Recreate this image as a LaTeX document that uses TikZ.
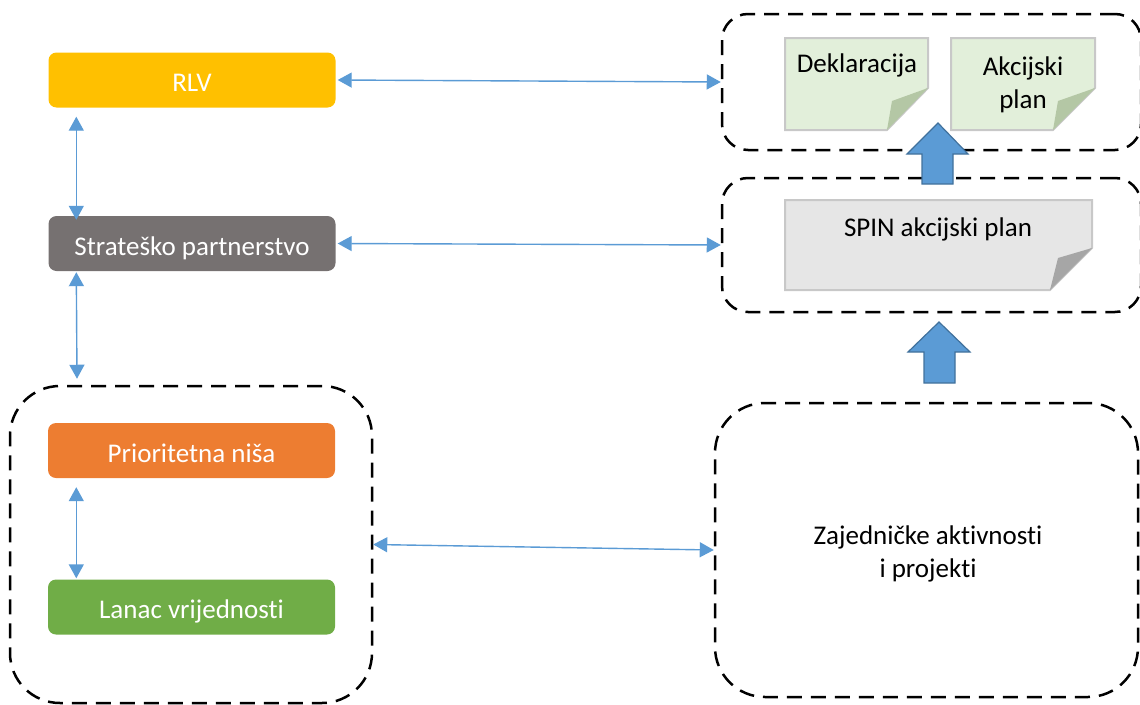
\documentclass[tikz,border=0pt]{standalone}
\usepackage{fontspec}
\setmainfont{Carlito}[Ligatures=NoCommon]
\usetikzlibrary{arrows.meta}
\definecolor{cRLV}{HTML}{FFC000}
\definecolor{cStrat}{HTML}{767171}
\definecolor{cPrio}{HTML}{ED7D31}
\definecolor{cLanac}{HTML}{70AD47}
\definecolor{cBlue}{HTML}{5B9BD5}
\definecolor{cBlueDark}{HTML}{41719C}
\definecolor{cNoteG}{HTML}{E2EFDA}
\definecolor{cFoldG}{HTML}{B4C7A5}
\definecolor{cNoteGr}{HTML}{E6E6E6}
\definecolor{cFoldGr}{HTML}{A6A6A6}
\definecolor{cNoteBorder}{HTML}{C8C8C8}
\tikzset{
  txt/.style={font=\fontsize{27}{33}\selectfont},
  colbox/.style={rounded corners=8pt, minimum width=287pt, minimum height=55pt, inner sep=0pt, text=white, txt, text height=23pt, text depth=0pt},
  dashbox/.style={draw=black, line width=2.5pt, dash pattern=on 15pt off 9pt, inner sep=0pt},
  conn/.style={draw=cBlue, line width=1.4pt, {Triangle[length=14pt,width=15pt]}-{Triangle[length=14pt,width=15pt]}},
  notebody/.style={draw=cNoteBorder, line width=2pt},
  blockarrow/.style={fill=cBlue, draw=cBlueDark, line width=1.2pt},
}
\begin{document}
\begin{tikzpicture}[x=1pt,y=-1pt]
\useasboundingbox (0,0) rectangle (1140,704);

% coloured boxes
\node[colbox, fill=cRLV] (rlv) at (192,80) {RLV};
\node[colbox, fill=cStrat] (strat) at (192,243.5) {Strateško partnerstvo};
\node[colbox, fill=cPrio] (prio) at (191.5,450.5) {Prioritetna niša};
\node[colbox, fill=cLanac] (lanac) at (191.5,607) {Lanac vrijednosti};

% dashed containers
\node[dashbox, rounded corners=50pt, minimum width=362pt, minimum height=317pt] (leftbox) at (191,544.5) {};
\node[dashbox, rounded corners=26pt, minimum width=419pt, minimum height=136pt] (topbox) at (931.5,82) {};
\node[dashbox, rounded corners=26pt, minimum width=419pt, minimum height=134pt] (midbox) at (931.5,245) {};
\node[dashbox, rounded corners=50pt, minimum width=423pt, minimum height=294pt] (botbox) at (926.5,550) {};
\node[txt, align=center] (botlabel) at (928,554) {Zajedničke aktivnosti\\i projekti};

% notes
\path[notebody, fill=cNoteG] (785,38) -- (928,38) -- (928,88) -- (887,130) -- (785,130) -- cycle;
\path[fill=cFoldG] (928,88) -- (887,130) -- (892,101) -- cycle;
\node[txt, anchor=center] (dekl) at (857,65) {Deklaracija};

\path[notebody, fill=cNoteG] (951,38) -- (1095,38) -- (1095,88) -- (1053,130) -- (951,130) -- cycle;
\path[fill=cFoldG] (1095,88) -- (1053,130) -- (1058,101) -- cycle;
\node[txt, align=center] (akc) at (1023,85) {Akcijski\\plan};

\path[notebody, fill=cNoteGr] (785,200) -- (1092,200) -- (1092,248) -- (1050,290) -- (785,290) -- cycle;
\path[fill=cFoldGr] (1092,248) -- (1050,290) -- (1058,258) -- cycle;
\node[txt] (spin) at (938,229) {SPIN akcijski plan};

% block arrows
\path[blockarrow] (922,184) -- (922,154) -- (907,154) -- (938,123) -- (968,154) -- (953,154) -- (953,184) -- cycle;
\path[blockarrow] (924,383) -- (924,352) -- (908,352) -- (939,322) -- (970,352) -- (955,352) -- (955,383) -- cycle;

% connectors
\draw[conn] ([xshift=2pt]rlv.east) -- (topbox.west);
\draw[conn] ([xshift=2pt]strat.east) -- (midbox.west);
\draw[conn] (leftbox.east) -- (botbox.west);
\draw[conn] ([xshift=28pt,yshift=-9pt]rlv.south west) -- ([xshift=28pt,yshift=-4pt]strat.north west);
\draw[conn] ([xshift=28pt,yshift=-1pt]strat.south west) -- ([xshift=-114pt,yshift=6pt]leftbox.north);
\draw[conn] ([xshift=28.5pt,yshift=-9pt]prio.south west) -- ([xshift=28.5pt,yshift=1pt]lanac.north west);
\end{tikzpicture}
\end{document}
